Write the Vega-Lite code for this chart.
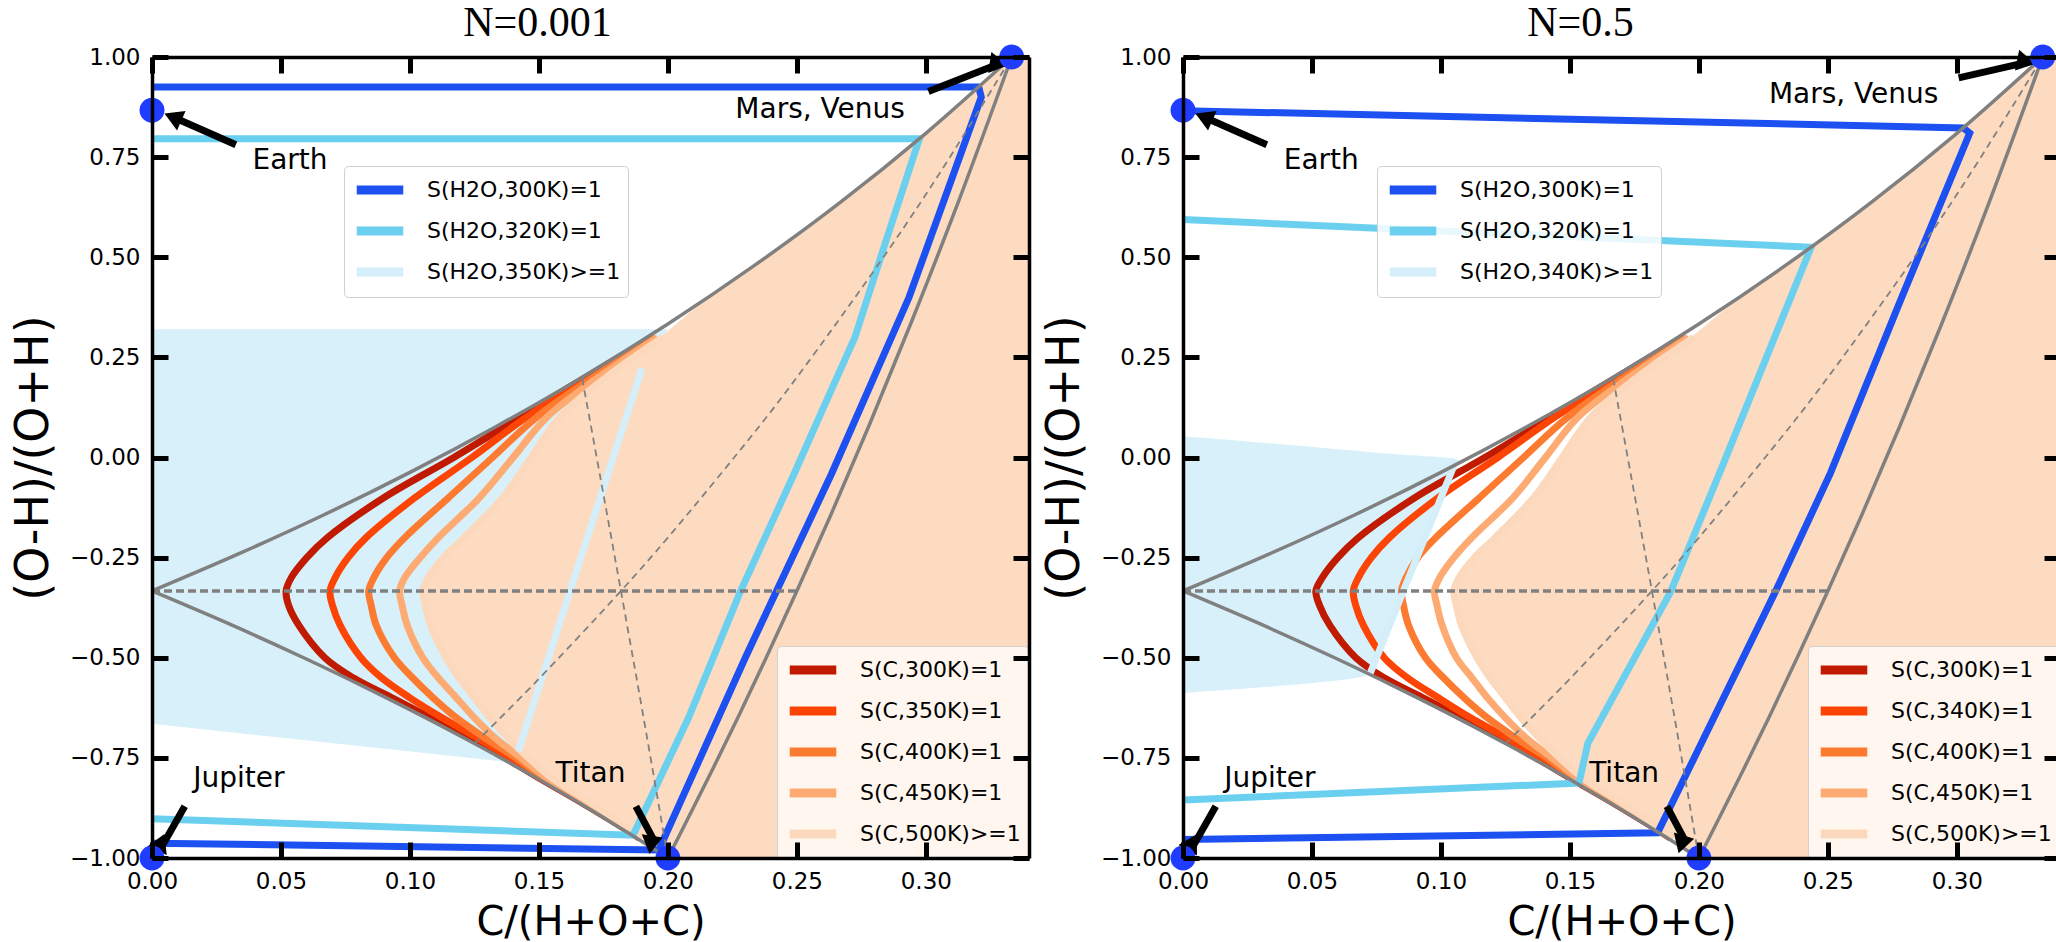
{
"$schema": "https://vega.github.io/schema/vega-lite/v6.json",
"padding": {"left": 10, "top": 1, "right": 0, "bottom": 0},
"spacing": 154,
"bounds": "flush",
"config": {
  "font": "DejaVu Sans",
  "view": {"stroke": null},
  "axis": {"domainColor": "black", "domainWidth": 3.5, "tickColor": "black", "tickWidth": 5, "tickSize": -16, "labelFontSize": 23, "labelColor": "black", "labelFont": "DejaVu Sans", "titleFont": "DejaVu Sans", "titleFontWeight": "normal", "titleColor": "black", "grid": false, "labelPadding": 28, "labelFlush": false, "labelOverlap": false},
  "legend": {"symbolType": "M-1.9,0L1.9,0", "symbolSize": 600, "symbolStrokeWidth": 9, "symbolOffset": 12, "labelOffset": 30, "labelFontSize": 22, "labelFont": "DejaVu Sans", "labelColor": "black", "labelLimit": 400, "padding": 7, "rowPadding": 5, "cornerRadius": 4, "strokeColor": "#d0d0d0", "title": null}
},
"datasets": {
  "edges": [
    {"e":"u","x":0,"y":-0.3333},{"e":"u","x":0.0333,"y":-0.2414},{"e":"u","x":0.0667,"y":-0.1429},{"e":"u","x":0.1,"y":-0.037},{"e":"u","x":0.1333,"y":0.0769},{"e":"u","x":0.1667,"y":0.2},{"e":"u","x":0.2,"y":0.3333},{"e":"u","x":0.2333,"y":0.4783},{"e":"u","x":0.2667,"y":0.6364},{"e":"u","x":0.3,"y":0.8095},{"e":"u","x":0.3333,"y":1},
    {"e":"l","x":0,"y":-0.3333},{"e":"l","x":0.03125,"y":-0.4194},{"e":"l","x":0.0588,"y":-0.5},{"e":"l","x":0.0833,"y":-0.5758},{"e":"l","x":0.1053,"y":-0.6471},{"e":"l","x":0.125,"y":-0.7143},{"e":"l","x":0.1429,"y":-0.7778},{"e":"l","x":0.1591,"y":-0.8378},{"e":"l","x":0.1739,"y":-0.8947},{"e":"l","x":0.1875,"y":-0.9487},{"e":"l","x":0.2,"y":-1},
    {"e":"r","x":0.2,"y":-1},{"e":"r","x":0.2083,"y":-0.8947},{"e":"r","x":0.2174,"y":-0.7778},{"e":"r","x":0.2273,"y":-0.6471},{"e":"r","x":0.2381,"y":-0.5},{"e":"r","x":0.25,"y":-0.3333},{"e":"r","x":0.2632,"y":-0.1429},{"e":"r","x":0.2778,"y":0.0769},{"e":"r","x":0.2941,"y":0.3333},{"e":"r","x":0.3125,"y":0.6364},{"e":"r","x":0.3333,"y":1}
  ],
  "med": [
    {"e":"m1","x":0.125,"y":-0.7143},{"e":"m1","x":0.1481,"y":-0.5652},{"e":"m1","x":0.1818,"y":-0.3333},{"e":"m1","x":0.2,"y":-0.2},{"e":"m1","x":0.2353,"y":0.0769},{"e":"m1","x":0.25,"y":0.2},{"e":"m1","x":0.2857,"y":0.52},{"e":"m1","x":0.3077,"y":0.7333},{"e":"m1","x":0.3333,"y":1},
    {"e":"m2","x":0.2,"y":-1},{"e":"m2","x":0.1905,"y":-0.6471},{"e":"m2","x":0.1818,"y":-0.3333},{"e":"m2","x":0.1739,"y":-0.0526},{"e":"m2","x":0.1667,"y":0.2}
  ],
  "hz": [{"x":0,"y":-0.3333},{"x":0.25,"y":-0.3333}],
  "dots": [{"name":"Earth","x":0,"y":0.867},{"name":"Mars, Venus","x":0.3333,"y":1},{"name":"Jupiter","x":0,"y":-1},{"name":"Titan","x":0.2,"y":-1}],
  "annL": [
    {"label":"Earth","tx":0.0535,"ty":0.74,"ax":0.0325,"ay":0.781,"hx":0.0081,"hy":0.85},
    {"label":"Mars, Venus","tx":0.259,"ty":0.868,"ax":0.301,"ay":0.914,"hx":0.3264,"hy":0.978},
    {"label":"Jupiter","tx":0.0337,"ty":-0.803,"ax":0.0127,"ay":-0.871,"hx":0.0036,"hy":-0.974},
    {"label":"Titan","tx":0.17,"ty":-0.79,"ax":0.1876,"ay":-0.871,"hx":0.1947,"hy":-0.957}
  ],
  "annR": [
    {"label":"Earth","tx":0.0536,"ty":0.74,"ax":0.0325,"ay":0.781,"hx":0.0081,"hy":0.85},
    {"label":"Mars, Venus","tx":0.26,"ty":0.905,"ax":0.3007,"ay":0.948,"hx":0.3249,"hy":0.9835},
    {"label":"Jupiter","tx":0.0337,"ty":-0.803,"ax":0.0127,"ay":-0.871,"hx":0.0036,"hy":-0.974},
    {"label":"Titan","tx":0.171,"ty":-0.79,"ax":0.1876,"ay":-0.871,"hx":0.1947,"hy":-0.957}
  ],
  "blueL": [
    {"y":-0.765,"x":0.145,"x2":0.145},{"y":-0.733,"x":0.0986,"x2":0.142},{"y":-0.665,"x":0,"x2":0.1454},{"y":0.223,"x":0,"x2":0.19},{"y":0.32,"x":0,"x2":0.2}
  ],
  "blueR": [
    {"y":-0.588,"x":0,"x2":0},{"y":-0.54,"x":0,"x2":0.0725},{"y":-0.4,"x":0,"x2":0.081},{"y":-0.2,"x":0,"x2":0.0937},{"y":-0.005,"x":0,"x2":0.106},{"y":0.012,"x":0,"x2":0.075},{"y":0.033,"x":0,"x2":0.038},{"y":0.053,"x":0,"x2":0}
  ],
  "peach": [
    {"y":-1,"x":0.2,"x2":0.34},{"y":-0.95,"x":0.19,"x2":0.34},{"y":-0.9,"x":0.179,"x2":0.34},{"y":-0.85,"x":0.167,"x2":0.34},{"y":-0.8,"x":0.155,"x2":0.34},{"y":-0.75,"x":0.146,"x2":0.34},{"y":-0.7,"x":0.138,"x2":0.34},{"y":-0.65,"x":0.131,"x2":0.34},{"y":-0.6,"x":0.125,"x2":0.34},{"y":-0.55,"x":0.119,"x2":0.34},{"y":-0.5,"x":0.114,"x2":0.34},{"y":-0.42,"x":0.108,"x2":0.34},{"y":-0.37,"x":0.106,"x2":0.34},{"y":-0.3333,"x":0.105,"x2":0.34},{"y":-0.3,"x":0.107,"x2":0.34},{"y":-0.25,"x":0.113,"x2":0.34},{"y":-0.2,"x":0.121,"x2":0.34},{"y":-0.1,"x":0.136,"x2":0.34},{"y":0,"x":0.147,"x2":0.34},{"y":0.1,"x":0.158,"x2":0.34},{"y":0.2,"x":0.176,"x2":0.34},{"y":0.3,"x":0.197,"x2":0.34},{"y":0.4,"x":0.2157,"x2":0.34},{"y":0.5,"x":0.238,"x2":0.34},{"y":0.6,"x":0.2593,"x2":0.34},{"y":0.7,"x":0.2793,"x2":0.34},{"y":0.8,"x":0.2982,"x2":0.34},{"y":0.9,"x":0.3162,"x2":0.34},{"y":1,"x":0.3333,"x2":0.34}
  ],
  "hL": [
    {"s":"S(H2O,300K)=1","i":0,"x":0,"y":0.925},{"s":"S(H2O,300K)=1","i":1,"x":0.3205,"y":0.925},{"s":"S(H2O,300K)=1","i":2,"x":0.3215,"y":0.9},{"s":"S(H2O,300K)=1","i":3,"x":0.2935,"y":0.4},{"s":"S(H2O,300K)=1","i":4,"x":0.2635,"y":-0.04},{"s":"S(H2O,300K)=1","i":5,"x":0.23,"y":-0.5},{"s":"S(H2O,300K)=1","i":6,"x":0.1965,"y":-0.98},{"s":"S(H2O,300K)=1","i":7,"x":0,"y":-0.963},
    {"s":"S(H2O,320K)=1","i":0,"x":0,"y":0.796},{"s":"S(H2O,320K)=1","i":1,"x":0.2975,"y":0.796},{"s":"S(H2O,320K)=1","i":2,"x":0.284,"y":0.53},{"s":"S(H2O,320K)=1","i":3,"x":0.2725,"y":0.3},{"s":"S(H2O,320K)=1","i":4,"x":0.26,"y":0.12},{"s":"S(H2O,320K)=1","i":5,"x":0.249,"y":-0.04},{"s":"S(H2O,320K)=1","i":6,"x":0.228,"y":-0.336},{"s":"S(H2O,320K)=1","i":7,"x":0.208,"y":-0.65},{"s":"S(H2O,320K)=1","i":8,"x":0.1865,"y":-0.943},{"s":"S(H2O,320K)=1","i":9,"x":0,"y":-0.902},
    {"s":"S(H2O,350K)>=1","i":0,"x":0.142,"y":-0.733},{"s":"S(H2O,350K)>=1","i":1,"x":0.19,"y":0.223}
  ],
  "hR": [
    {"s":"S(H2O,300K)=1","i":0,"x":0,"y":0.866},{"s":"S(H2O,300K)=1","i":1,"x":0.3025,"y":0.823},{"s":"S(H2O,300K)=1","i":2,"x":0.305,"y":0.81},{"s":"S(H2O,300K)=1","i":3,"x":0.278,"y":0.39},{"s":"S(H2O,300K)=1","i":4,"x":0.251,"y":-0.039},{"s":"S(H2O,300K)=1","i":5,"x":0.2296,"y":-0.336},{"s":"S(H2O,300K)=1","i":6,"x":0.184,"y":-0.937},{"s":"S(H2O,300K)=1","i":7,"x":0,"y":-0.954},
    {"s":"S(H2O,320K)=1","i":0,"x":0,"y":0.594},{"s":"S(H2O,320K)=1","i":1,"x":0.2435,"y":0.525},{"s":"S(H2O,320K)=1","i":2,"x":0.208,"y":-0.039},{"s":"S(H2O,320K)=1","i":3,"x":0.189,"y":-0.336},{"s":"S(H2O,320K)=1","i":4,"x":0.157,"y":-0.713},{"s":"S(H2O,320K)=1","i":5,"x":0.1535,"y":-0.813},{"s":"S(H2O,320K)=1","i":6,"x":0,"y":-0.855},
    {"s":"S(H2O,340K)>=1","i":0,"x":0.0725,"y":-0.54},{"s":"S(H2O,340K)>=1","i":1,"x":0.106,"y":-0.005}
  ],
  "cL": [
    {"s":"S(C,300K)=1","x":0.194,"y":0.3},{"s":"S(C,300K)=1","x":0.168,"y":0.2},{"s":"S(C,300K)=1","x":0.1425,"y":0.1},{"s":"S(C,300K)=1","x":0.117,"y":0},{"s":"S(C,300K)=1","x":0.09,"y":-0.1},{"s":"S(C,300K)=1","x":0.068,"y":-0.2},{"s":"S(C,300K)=1","x":0.06,"y":-0.25},{"s":"S(C,300K)=1","x":0.054,"y":-0.3},{"s":"S(C,300K)=1","x":0.052,"y":-0.3333},{"s":"S(C,300K)=1","x":0.053,"y":-0.37},{"s":"S(C,300K)=1","x":0.057,"y":-0.42},{"s":"S(C,300K)=1","x":0.067,"y":-0.5},{"s":"S(C,300K)=1","x":0.078,"y":-0.55},{"s":"S(C,300K)=1","x":0.093,"y":-0.6},{"s":"S(C,300K)=1","x":0.108,"y":-0.65},{"s":"S(C,300K)=1","x":0.123,"y":-0.7},{"s":"S(C,300K)=1","x":0.137,"y":-0.75},{"s":"S(C,300K)=1","x":0.15,"y":-0.8},{"s":"S(C,300K)=1","x":0.1635,"y":-0.85},{"s":"S(C,300K)=1","x":0.1765,"y":-0.9},{"s":"S(C,300K)=1","x":0.189,"y":-0.95},
    {"s":"S(C,350K)=1","x":0.1945,"y":0.3},{"s":"S(C,350K)=1","x":0.169,"y":0.2},{"s":"S(C,350K)=1","x":0.145,"y":0.1},{"s":"S(C,350K)=1","x":0.124,"y":0},{"s":"S(C,350K)=1","x":0.102,"y":-0.1},{"s":"S(C,350K)=1","x":0.083,"y":-0.2},{"s":"S(C,350K)=1","x":0.076,"y":-0.25},{"s":"S(C,350K)=1","x":0.071,"y":-0.3},{"s":"S(C,350K)=1","x":0.069,"y":-0.3333},{"s":"S(C,350K)=1","x":0.07,"y":-0.37},{"s":"S(C,350K)=1","x":0.073,"y":-0.42},{"s":"S(C,350K)=1","x":0.081,"y":-0.5},{"s":"S(C,350K)=1","x":0.089,"y":-0.55},{"s":"S(C,350K)=1","x":0.1,"y":-0.6},{"s":"S(C,350K)=1","x":0.1125,"y":-0.65},{"s":"S(C,350K)=1","x":0.126,"y":-0.7},{"s":"S(C,350K)=1","x":0.139,"y":-0.75},{"s":"S(C,350K)=1","x":0.151,"y":-0.8},{"s":"S(C,350K)=1","x":0.164,"y":-0.85},{"s":"S(C,350K)=1","x":0.177,"y":-0.9},{"s":"S(C,350K)=1","x":0.189,"y":-0.95},
    {"s":"S(C,400K)=1","x":0.195,"y":0.3},{"s":"S(C,400K)=1","x":0.171,"y":0.2},{"s":"S(C,400K)=1","x":0.149,"y":0.1},{"s":"S(C,400K)=1","x":0.132,"y":0},{"s":"S(C,400K)=1","x":0.115,"y":-0.1},{"s":"S(C,400K)=1","x":0.098,"y":-0.2},{"s":"S(C,400K)=1","x":0.091,"y":-0.25},{"s":"S(C,400K)=1","x":0.086,"y":-0.3},{"s":"S(C,400K)=1","x":0.084,"y":-0.3333},{"s":"S(C,400K)=1","x":0.085,"y":-0.37},{"s":"S(C,400K)=1","x":0.087,"y":-0.42},{"s":"S(C,400K)=1","x":0.094,"y":-0.5},{"s":"S(C,400K)=1","x":0.101,"y":-0.55},{"s":"S(C,400K)=1","x":0.109,"y":-0.6},{"s":"S(C,400K)=1","x":0.118,"y":-0.65},{"s":"S(C,400K)=1","x":0.129,"y":-0.7},{"s":"S(C,400K)=1","x":0.141,"y":-0.75},{"s":"S(C,400K)=1","x":0.152,"y":-0.8},{"s":"S(C,400K)=1","x":0.165,"y":-0.85},{"s":"S(C,400K)=1","x":0.1775,"y":-0.9},{"s":"S(C,400K)=1","x":0.1895,"y":-0.95},
    {"s":"S(C,450K)=1","x":0.196,"y":0.3},{"s":"S(C,450K)=1","x":0.173,"y":0.2},{"s":"S(C,450K)=1","x":0.153,"y":0.1},{"s":"S(C,450K)=1","x":0.14,"y":0},{"s":"S(C,450K)=1","x":0.127,"y":-0.1},{"s":"S(C,450K)=1","x":0.111,"y":-0.2},{"s":"S(C,450K)=1","x":0.104,"y":-0.25},{"s":"S(C,450K)=1","x":0.098,"y":-0.3},{"s":"S(C,450K)=1","x":0.096,"y":-0.3333},{"s":"S(C,450K)=1","x":0.097,"y":-0.37},{"s":"S(C,450K)=1","x":0.099,"y":-0.42},{"s":"S(C,450K)=1","x":0.105,"y":-0.5},{"s":"S(C,450K)=1","x":0.111,"y":-0.55},{"s":"S(C,450K)=1","x":0.118,"y":-0.6},{"s":"S(C,450K)=1","x":0.125,"y":-0.65},{"s":"S(C,450K)=1","x":0.133,"y":-0.7},{"s":"S(C,450K)=1","x":0.143,"y":-0.75},{"s":"S(C,450K)=1","x":0.153,"y":-0.8},{"s":"S(C,450K)=1","x":0.166,"y":-0.85},{"s":"S(C,450K)=1","x":0.178,"y":-0.9},{"s":"S(C,450K)=1","x":0.19,"y":-0.95},
    {"s":"S(C,500K)>=1","x":0.198,"y":0.3},{"s":"S(C,500K)>=1","x":0.176,"y":0.2},{"s":"S(C,500K)>=1","x":0.158,"y":0.1},{"s":"S(C,500K)>=1","x":0.147,"y":0},{"s":"S(C,500K)>=1","x":0.136,"y":-0.1},{"s":"S(C,500K)>=1","x":0.121,"y":-0.2},{"s":"S(C,500K)>=1","x":0.113,"y":-0.25},{"s":"S(C,500K)>=1","x":0.107,"y":-0.3},{"s":"S(C,500K)>=1","x":0.105,"y":-0.3333},{"s":"S(C,500K)>=1","x":0.106,"y":-0.37},{"s":"S(C,500K)>=1","x":0.108,"y":-0.42},{"s":"S(C,500K)>=1","x":0.114,"y":-0.5},{"s":"S(C,500K)>=1","x":0.119,"y":-0.55},{"s":"S(C,500K)>=1","x":0.125,"y":-0.6},{"s":"S(C,500K)>=1","x":0.131,"y":-0.65},{"s":"S(C,500K)>=1","x":0.138,"y":-0.7},{"s":"S(C,500K)>=1","x":0.146,"y":-0.75},{"s":"S(C,500K)>=1","x":0.155,"y":-0.8},{"s":"S(C,500K)>=1","x":0.167,"y":-0.85},{"s":"S(C,500K)>=1","x":0.179,"y":-0.9},{"s":"S(C,500K)>=1","x":0.19,"y":-0.95}
  ],
  "cR": [
    {"s":"S(C,300K)=1","x":0.194,"y":0.3},{"s":"S(C,300K)=1","x":0.168,"y":0.2},{"s":"S(C,300K)=1","x":0.1425,"y":0.1},{"s":"S(C,300K)=1","x":0.117,"y":0},{"s":"S(C,300K)=1","x":0.09,"y":-0.1},{"s":"S(C,300K)=1","x":0.068,"y":-0.2},{"s":"S(C,300K)=1","x":0.06,"y":-0.25},{"s":"S(C,300K)=1","x":0.054,"y":-0.3},{"s":"S(C,300K)=1","x":0.0515,"y":-0.3333},{"s":"S(C,300K)=1","x":0.053,"y":-0.37},{"s":"S(C,300K)=1","x":0.057,"y":-0.42},{"s":"S(C,300K)=1","x":0.067,"y":-0.5},{"s":"S(C,300K)=1","x":0.078,"y":-0.55},{"s":"S(C,300K)=1","x":0.093,"y":-0.6},{"s":"S(C,300K)=1","x":0.108,"y":-0.65},{"s":"S(C,300K)=1","x":0.123,"y":-0.7},{"s":"S(C,300K)=1","x":0.137,"y":-0.75},{"s":"S(C,300K)=1","x":0.15,"y":-0.8},{"s":"S(C,300K)=1","x":0.1635,"y":-0.85},{"s":"S(C,300K)=1","x":0.1765,"y":-0.9},{"s":"S(C,300K)=1","x":0.189,"y":-0.95},
    {"s":"S(C,340K)=1","x":0.1943,"y":0.3},{"s":"S(C,340K)=1","x":0.1685,"y":0.2},{"s":"S(C,340K)=1","x":0.144,"y":0.1},{"s":"S(C,340K)=1","x":0.122,"y":0},{"s":"S(C,340K)=1","x":0.099,"y":-0.1},{"s":"S(C,340K)=1","x":0.08,"y":-0.2},{"s":"S(C,340K)=1","x":0.073,"y":-0.25},{"s":"S(C,340K)=1","x":0.068,"y":-0.3},{"s":"S(C,340K)=1","x":0.066,"y":-0.3333},{"s":"S(C,340K)=1","x":0.067,"y":-0.37},{"s":"S(C,340K)=1","x":0.07,"y":-0.42},{"s":"S(C,340K)=1","x":0.078,"y":-0.5},{"s":"S(C,340K)=1","x":0.087,"y":-0.55},{"s":"S(C,340K)=1","x":0.099,"y":-0.6},{"s":"S(C,340K)=1","x":0.1115,"y":-0.65},{"s":"S(C,340K)=1","x":0.1255,"y":-0.7},{"s":"S(C,340K)=1","x":0.1385,"y":-0.75},{"s":"S(C,340K)=1","x":0.151,"y":-0.8},{"s":"S(C,340K)=1","x":0.164,"y":-0.85},{"s":"S(C,340K)=1","x":0.177,"y":-0.9},{"s":"S(C,340K)=1","x":0.189,"y":-0.95},
    {"s":"S(C,400K)=1","x":0.195,"y":0.3},{"s":"S(C,400K)=1","x":0.171,"y":0.2},{"s":"S(C,400K)=1","x":0.149,"y":0.1},{"s":"S(C,400K)=1","x":0.132,"y":0},{"s":"S(C,400K)=1","x":0.115,"y":-0.1},{"s":"S(C,400K)=1","x":0.098,"y":-0.2},{"s":"S(C,400K)=1","x":0.091,"y":-0.25},{"s":"S(C,400K)=1","x":0.0865,"y":-0.3},{"s":"S(C,400K)=1","x":0.0847,"y":-0.3333},{"s":"S(C,400K)=1","x":0.0855,"y":-0.37},{"s":"S(C,400K)=1","x":0.0875,"y":-0.42},{"s":"S(C,400K)=1","x":0.094,"y":-0.5},{"s":"S(C,400K)=1","x":0.101,"y":-0.55},{"s":"S(C,400K)=1","x":0.109,"y":-0.6},{"s":"S(C,400K)=1","x":0.118,"y":-0.65},{"s":"S(C,400K)=1","x":0.129,"y":-0.7},{"s":"S(C,400K)=1","x":0.141,"y":-0.75},{"s":"S(C,400K)=1","x":0.152,"y":-0.8},{"s":"S(C,400K)=1","x":0.165,"y":-0.85},{"s":"S(C,400K)=1","x":0.1775,"y":-0.9},{"s":"S(C,400K)=1","x":0.1895,"y":-0.95},
    {"s":"S(C,450K)=1","x":0.196,"y":0.3},{"s":"S(C,450K)=1","x":0.173,"y":0.2},{"s":"S(C,450K)=1","x":0.153,"y":0.1},{"s":"S(C,450K)=1","x":0.1405,"y":0},{"s":"S(C,450K)=1","x":0.128,"y":-0.1},{"s":"S(C,450K)=1","x":0.112,"y":-0.2},{"s":"S(C,450K)=1","x":0.105,"y":-0.25},{"s":"S(C,450K)=1","x":0.0995,"y":-0.3},{"s":"S(C,450K)=1","x":0.0975,"y":-0.3333},{"s":"S(C,450K)=1","x":0.0985,"y":-0.37},{"s":"S(C,450K)=1","x":0.1005,"y":-0.42},{"s":"S(C,450K)=1","x":0.106,"y":-0.5},{"s":"S(C,450K)=1","x":0.112,"y":-0.55},{"s":"S(C,450K)=1","x":0.118,"y":-0.6},{"s":"S(C,450K)=1","x":0.125,"y":-0.65},{"s":"S(C,450K)=1","x":0.133,"y":-0.7},{"s":"S(C,450K)=1","x":0.143,"y":-0.75},{"s":"S(C,450K)=1","x":0.153,"y":-0.8},{"s":"S(C,450K)=1","x":0.166,"y":-0.85},{"s":"S(C,450K)=1","x":0.178,"y":-0.9},{"s":"S(C,450K)=1","x":0.19,"y":-0.95},
    {"s":"S(C,500K)>=1","x":0.198,"y":0.3},{"s":"S(C,500K)>=1","x":0.176,"y":0.2},{"s":"S(C,500K)>=1","x":0.158,"y":0.1},{"s":"S(C,500K)>=1","x":0.147,"y":0},{"s":"S(C,500K)>=1","x":0.136,"y":-0.1},{"s":"S(C,500K)>=1","x":0.121,"y":-0.2},{"s":"S(C,500K)>=1","x":0.113,"y":-0.25},{"s":"S(C,500K)>=1","x":0.107,"y":-0.3},{"s":"S(C,500K)>=1","x":0.105,"y":-0.3333},{"s":"S(C,500K)>=1","x":0.106,"y":-0.37},{"s":"S(C,500K)>=1","x":0.108,"y":-0.42},{"s":"S(C,500K)>=1","x":0.114,"y":-0.5},{"s":"S(C,500K)>=1","x":0.119,"y":-0.55},{"s":"S(C,500K)>=1","x":0.125,"y":-0.6},{"s":"S(C,500K)>=1","x":0.131,"y":-0.65},{"s":"S(C,500K)>=1","x":0.138,"y":-0.7},{"s":"S(C,500K)>=1","x":0.146,"y":-0.75},{"s":"S(C,500K)>=1","x":0.155,"y":-0.8},{"s":"S(C,500K)>=1","x":0.167,"y":-0.85},{"s":"S(C,500K)>=1","x":0.179,"y":-0.9},{"s":"S(C,500K)>=1","x":0.19,"y":-0.95}
  ]
},
"resolve": {"scale": {"color": "independent", "stroke": "independent", "angle": "independent", "x": "independent", "y": "independent"}, "legend": {"color": "independent", "stroke": "independent"}},
"hconcat": [
  {
    "width": 877, "height": 801,
    "title": {"text": "N=0.001", "font": "Liberation Serif", "fontSize": 42, "fontWeight": "normal", "color": "black", "dx": -53, "offset": 0},
    "resolve": {"axis": {"x": "independent", "y": "independent"}},
    "layer": [
      {
        "layer": [
          {"data": {"name": "blueL"}, "mark": {"type": "area", "orient": "horizontal", "color": "#d7f0fa", "opacity": 1},
           "encoding": {
             "y": {"field": "y", "type": "quantitative", "scale": {"domain": [-1, 1], "nice": false, "zero": false}, "title": "(O-H)/(O+H)", "axis": {"values": [-1, -0.75, -0.5, -0.25, 0, 0.25, 0.5, 0.75, 1], "format": ".2f", "title": "(O-H)/(O+H)", "titleFontSize": 46, "titlePadding": 12, "zindex": 1}},
             "x": {"field": "x", "type": "quantitative", "scale": {"domain": [0, 0.34], "nice": false, "zero": false}, "title": "C/(H+O+C)", "axis": {"values": [0, 0.05, 0.1, 0.15, 0.2, 0.25, 0.3], "format": ".2f", "title": "C/(H+O+C)", "titleFontSize": 40, "titlePadding": 9, "zindex": 1}},
             "x2": {"field": "x2"}}},
          {"data": {"name": "peach"}, "mark": {"type": "area", "orient": "horizontal", "color": "#fddbc0", "opacity": 1, "interpolate": "catmull-rom"},
           "encoding": {"y": {"field": "y", "type": "quantitative"}, "x": {"field": "x", "type": "quantitative"}, "x2": {"field": "x2"}}},
          {"data": {"name": "cL"}, "mark": {"type": "line", "strokeWidth": 7, "strokeCap": "butt", "interpolate": "catmull-rom"},
           "encoding": {"x": {"field": "x", "type": "quantitative"}, "y": {"field": "y", "type": "quantitative"}, "order": {"field": "y", "type": "quantitative"},
             "stroke": {"field": "s", "type": "nominal", "scale": {"domain": ["S(C,300K)=1", "S(C,350K)=1", "S(C,400K)=1", "S(C,450K)=1", "S(C,500K)>=1"], "range": ["#c01a00", "#fc4505", "#fd7b30", "#fdab72", "#fcd9bd"]},
               "legend": {"orient": "none", "legendX": 625, "legendY": 589, "fillColor": "rgba(255,255,255,0.75)", "symbolType": "M-1.9,0L1.9,0"}}}},
          {"data": {"name": "hL"}, "mark": {"type": "line", "strokeWidth": 7, "strokeCap": "butt", "strokeJoin": "miter"},
           "encoding": {"x": {"field": "x", "type": "quantitative"}, "y": {"field": "y", "type": "quantitative"}, "order": {"field": "i", "type": "quantitative"},
             "color": {"field": "s", "type": "nominal", "scale": {"domain": ["S(H2O,300K)=1", "S(H2O,320K)=1", "S(H2O,350K)>=1"], "range": ["#1c50f0", "#6bd0ef", "#d4eff9"]},
               "legend": {"orient": "none", "legendX": 192, "legendY": 109, "fillColor": "rgba(255,255,255,0.85)", "symbolType": "M-1.9,0L1.9,0"}}}},
          {"data": {"name": "edges"}, "mark": {"type": "line", "color": "#808080", "strokeWidth": 3.5, "interpolate": "catmull-rom"},
           "encoding": {"x": {"field": "x", "type": "quantitative"}, "y": {"field": "y", "type": "quantitative"}, "detail": {"field": "e"}, "order": {"field": "y", "type": "quantitative"}}},
          {"data": {"name": "med"}, "mark": {"type": "line", "color": "#808080", "strokeWidth": 1.8, "strokeDash": [7, 5], "interpolate": "catmull-rom"},
           "encoding": {"x": {"field": "x", "type": "quantitative"}, "y": {"field": "y", "type": "quantitative"}, "detail": {"field": "e"}, "order": {"field": "y", "type": "quantitative"}}},
          {"data": {"name": "hz"}, "mark": {"type": "line", "color": "#808080", "strokeWidth": 3.5, "strokeDash": [8, 4]},
           "encoding": {"x": {"field": "x", "type": "quantitative"}, "y": {"field": "y", "type": "quantitative"}}},
          {"data": {"name": "annL"}, "mark": {"type": "rule", "color": "black", "strokeWidth": 7},
           "encoding": {"x": {"field": "ax", "type": "quantitative"}, "y": {"field": "ay", "type": "quantitative"}, "x2": {"field": "hx"}, "y2": {"field": "hy"}}},
          {"data": {"name": "annL"}, "mark": {"type": "point", "shape": "triangle-up", "filled": true, "color": "black", "opacity": 1, "size": 450},
           "encoding": {"x": {"field": "hx", "type": "quantitative"}, "y": {"field": "hy", "type": "quantitative"},
             "angle": {"field": "label", "type": "nominal", "scale": {"domain": ["Earth", "Mars, Venus", "Jupiter", "Titan"], "range": [293.7, 68.7, 209.5, 152]}, "legend": null}}},
          {"data": {"name": "annL"}, "mark": {"type": "text", "fontSize": 28, "font": "DejaVu Sans", "color": "black", "align": "center", "baseline": "middle"},
           "encoding": {"x": {"field": "tx", "type": "quantitative"}, "y": {"field": "ty", "type": "quantitative"}, "text": {"field": "label"}}}
        ]
      },
      {"data": {"name": "dots"}, "mark": {"type": "point", "filled": true, "color": "#1f3cff", "opacity": 1, "size": 620},
       "encoding": {
         "x": {"field": "x", "type": "quantitative", "axis": {"orient": "top", "labels": false, "title": null, "values": [0, 0.05, 0.1, 0.15, 0.2, 0.25, 0.3], "zindex": 1}},
         "y": {"field": "y", "type": "quantitative", "axis": {"orient": "right", "labels": false, "title": null, "values": [-1, -0.75, -0.5, -0.25, 0, 0.25, 0.5, 0.75, 1], "zindex": 1}}}}
    ]
  },
  {
    "width": 877, "height": 801,
    "title": {"text": "N=0.5", "font": "Liberation Serif", "fontSize": 42, "fontWeight": "normal", "color": "black", "dx": -41, "offset": 0},
    "resolve": {"axis": {"x": "independent", "y": "independent"}},
    "layer": [
      {
        "layer": [
          {"data": {"name": "blueR"}, "mark": {"type": "area", "orient": "horizontal", "color": "#d7f0fa", "opacity": 1, "interpolate": "monotone"},
           "encoding": {
             "y": {"field": "y", "type": "quantitative", "scale": {"domain": [-1, 1], "nice": false, "zero": false}, "title": "(O-H)/(O+H)", "axis": {"values": [-1, -0.75, -0.5, -0.25, 0, 0.25, 0.5, 0.75, 1], "format": ".2f", "title": "(O-H)/(O+H)", "titleFontSize": 46, "titlePadding": 12, "zindex": 1}},
             "x": {"field": "x", "type": "quantitative", "scale": {"domain": [0, 0.34], "nice": false, "zero": false}, "title": "C/(H+O+C)", "axis": {"values": [0, 0.05, 0.1, 0.15, 0.2, 0.25, 0.3], "format": ".2f", "title": "C/(H+O+C)", "titleFontSize": 40, "titlePadding": 9, "zindex": 1}},
             "x2": {"field": "x2"}}},
          {"data": {"name": "peach"}, "mark": {"type": "area", "orient": "horizontal", "color": "#fddbc0", "opacity": 1, "interpolate": "catmull-rom"},
           "encoding": {"y": {"field": "y", "type": "quantitative"}, "x": {"field": "x", "type": "quantitative"}, "x2": {"field": "x2"}}},
          {"data": {"name": "cR"}, "mark": {"type": "line", "strokeWidth": 7, "strokeCap": "butt", "interpolate": "catmull-rom"},
           "encoding": {"x": {"field": "x", "type": "quantitative"}, "y": {"field": "y", "type": "quantitative"}, "order": {"field": "y", "type": "quantitative"},
             "stroke": {"field": "s", "type": "nominal", "scale": {"domain": ["S(C,300K)=1", "S(C,340K)=1", "S(C,400K)=1", "S(C,450K)=1", "S(C,500K)>=1"], "range": ["#c01a00", "#fc4505", "#fd7b30", "#fdab72", "#fcd9bd"]},
               "legend": {"orient": "none", "legendX": 625, "legendY": 589, "fillColor": "rgba(255,255,255,0.75)", "symbolType": "M-1.9,0L1.9,0"}}}},
          {"data": {"name": "hR"}, "mark": {"type": "line", "strokeWidth": 7, "strokeCap": "butt", "strokeJoin": "miter"},
           "encoding": {"x": {"field": "x", "type": "quantitative"}, "y": {"field": "y", "type": "quantitative"}, "order": {"field": "i", "type": "quantitative"},
             "color": {"field": "s", "type": "nominal", "scale": {"domain": ["S(H2O,300K)=1", "S(H2O,320K)=1", "S(H2O,340K)>=1"], "range": ["#1c50f0", "#6bd0ef", "#d4eff9"]},
               "legend": {"orient": "none", "legendX": 194, "legendY": 109, "fillColor": "rgba(255,255,255,0.85)", "symbolType": "M-1.9,0L1.9,0"}}}},
          {"data": {"name": "edges"}, "mark": {"type": "line", "color": "#808080", "strokeWidth": 3.5, "interpolate": "catmull-rom"},
           "encoding": {"x": {"field": "x", "type": "quantitative"}, "y": {"field": "y", "type": "quantitative"}, "detail": {"field": "e"}, "order": {"field": "y", "type": "quantitative"}}},
          {"data": {"name": "med"}, "mark": {"type": "line", "color": "#808080", "strokeWidth": 1.8, "strokeDash": [7, 5], "interpolate": "catmull-rom"},
           "encoding": {"x": {"field": "x", "type": "quantitative"}, "y": {"field": "y", "type": "quantitative"}, "detail": {"field": "e"}, "order": {"field": "y", "type": "quantitative"}}},
          {"data": {"name": "hz"}, "mark": {"type": "line", "color": "#808080", "strokeWidth": 3.5, "strokeDash": [8, 4]},
           "encoding": {"x": {"field": "x", "type": "quantitative"}, "y": {"field": "y", "type": "quantitative"}}},
          {"data": {"name": "annR"}, "mark": {"type": "rule", "color": "black", "strokeWidth": 7},
           "encoding": {"x": {"field": "ax", "type": "quantitative"}, "y": {"field": "ay", "type": "quantitative"}, "x2": {"field": "hx"}, "y2": {"field": "hy"}}},
          {"data": {"name": "annR"}, "mark": {"type": "point", "shape": "triangle-up", "filled": true, "color": "black", "opacity": 1, "size": 450},
           "encoding": {"x": {"field": "hx", "type": "quantitative"}, "y": {"field": "hy", "type": "quantitative"},
             "angle": {"field": "label", "type": "nominal", "scale": {"domain": ["Earth", "Mars, Venus", "Jupiter", "Titan"], "range": [293.7, 77.2, 209.5, 152]}, "legend": null}}},
          {"data": {"name": "annR"}, "mark": {"type": "text", "fontSize": 28, "font": "DejaVu Sans", "color": "black", "align": "center", "baseline": "middle"},
           "encoding": {"x": {"field": "tx", "type": "quantitative"}, "y": {"field": "ty", "type": "quantitative"}, "text": {"field": "label"}}}
        ]
      },
      {"data": {"name": "dots"}, "mark": {"type": "point", "filled": true, "color": "#1f3cff", "opacity": 1, "size": 620},
       "encoding": {
         "x": {"field": "x", "type": "quantitative", "axis": {"orient": "top", "labels": false, "title": null, "values": [0, 0.05, 0.1, 0.15, 0.2, 0.25, 0.3], "zindex": 1}},
         "y": {"field": "y", "type": "quantitative", "axis": {"orient": "right", "labels": false, "title": null, "values": [-1, -0.75, -0.5, -0.25, 0, 0.25, 0.5, 0.75, 1], "zindex": 1}}}}
    ]
  }
]
}
